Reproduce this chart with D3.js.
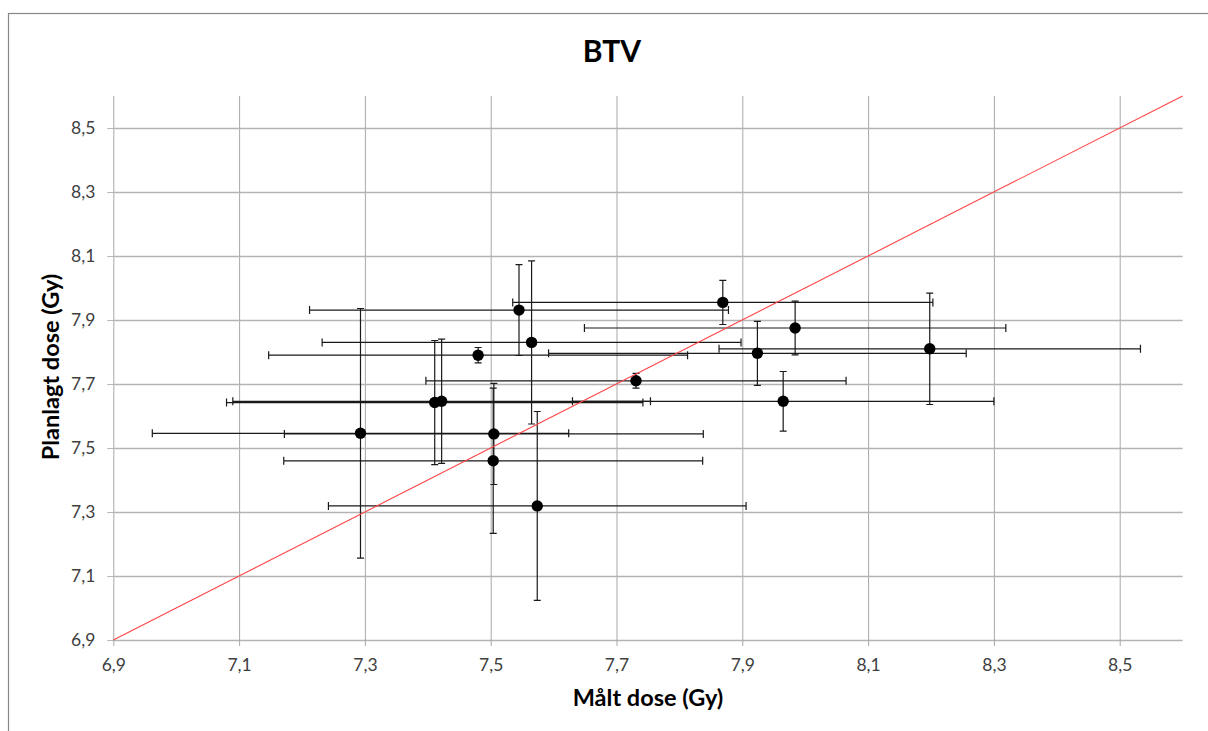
<!DOCTYPE html>
<html>
<head>
<meta charset="utf-8">
<script src="https://cdn.jsdelivr.net/npm/d3@7"></script>
<style>
  body { margin: 0; background: #fff; }
  text { font-family: Lato, "Open Sans", sans-serif; }
  .tickLabel { font-size: 17.5px; fill: #404040; }
  .aText { font-size: 23.5px; font-weight: bold; fill: #000; }
</style>
</head>
<body>
<div id="scatter"></div>
<script>
// ------------ DATA ------------
// measured dose (x) and planned dose (y), read off the chart
var measured = [7.293, 7.411, 7.422, 7.480, 7.505, 7.504, 7.545, 7.565, 7.574, 7.731, 7.869, 7.924, 7.965, 7.984, 8.198];
var planned = [7.546, 7.642, 7.646, 7.790, 7.544, 7.460, 7.931, 7.830, 7.319, 7.710, 7.955, 7.796, 7.646, 7.875, 7.810];
// error bar half widths
var measuredErr = [0.331, 0.331, 0.332, 0.333, 0.333, 0.333, 0.333, 0.333, 0.332, 0.334, 0.334, 0.332, 0.335, 0.335, 0.335];
var plannedErr = [0.390, 0.194, 0.194, 0.024, 0.158, 0.227, 0.142, 0.255, 0.295, 0.023, 0.069, 0.100, 0.093, 0.084, 0.174];
// axis ticks and the identity line
var tickValues = [6.9, 7.1, 7.3, 7.5, 7.7, 7.9, 8.1, 8.3, 8.5];
var axisDomain = [6.9, 8.6];

var data = measured.map(function(m, i) {
  return { x: m, y: planned[i], ex: measuredErr[i], ey: plannedErr[i] };
});

// ------------ CHART FORMATTING ------------
var svgWidth = 1208;
var svgHeight = 731;

var margin = { top: 96, left: 113.3 };
var chartWidth = 1069.3;
var chartHeight = 544;

var svg = d3.select("#scatter")
  .append("svg")
  .attr("width", svgWidth)
  .attr("height", svgHeight);

// chart frame (runs off the right and bottom edge)
svg.append("rect")
  .attr("x", 8.5)
  .attr("y", 13.5)
  .attr("width", 1400)
  .attr("height", 900)
  .attr("fill", "#fff")
  .attr("stroke", "#878787")
  .attr("stroke-width", 1.2);

var chartGroup = svg.append("g")
  .attr("transform", `translate(${margin.left}, ${margin.top})`);

// ------------ AXES ------------
var x = d3.scaleLinear().domain(axisDomain).range([0, chartWidth]);
var y = d3.scaleLinear().domain(axisDomain).range([chartHeight, 0]);

var fmt = function(d) { return d3.format(".1f")(d).replace(".", ","); };

// vertical gridlines
chartGroup.append("g")
  .attr("transform", "translate(0, " + chartHeight + ")")
  .call(d3.axisBottom(x).tickValues(tickValues).tickSize(-chartHeight).tickFormat(""))
  .call(g => g.select(".domain").remove())
  .call(g => g.selectAll("line").attr("stroke", "#a8a8a8").attr("stroke-width", 1));

// horizontal gridlines
chartGroup.append("g")
  .call(d3.axisLeft(y).tickValues(tickValues).tickSize(-chartWidth).tickFormat(""))
  .call(g => g.select(".domain").remove())
  .call(g => g.selectAll("line").attr("stroke", "#b4b4b4").attr("stroke-width", 1.3));

// bottom axis ticks + labels
chartGroup.append("g")
  .attr("transform", "translate(0, " + chartHeight + ")")
  .call(d3.axisBottom(x).tickValues(tickValues).tickSize(6).tickPadding(13).tickFormat(fmt))
  .call(g => g.select(".domain").remove())
  .call(g => g.selectAll("line").attr("stroke", "#a8a8a8"))
  .call(g => g.selectAll("text").attr("class", "tickLabel").attr("font-size", null).attr("font-family", null));

// left axis ticks + labels
chartGroup.append("g")
  .call(d3.axisLeft(y).tickValues(tickValues).tickSize(6).tickPadding(12).tickFormat(fmt))
  .call(g => g.select(".domain").remove())
  .call(g => g.selectAll("line").attr("stroke", "#b4b4b4"))
  .call(g => g.selectAll("text").attr("class", "tickLabel").attr("font-size", null).attr("font-family", null));

// ------------ ERROR BARS ------------
var bars = chartGroup.append("g")
  .attr("stroke", "#1a1a1a")
  .attr("stroke-width", 1.2);

// horizontal (measured) bars
bars.selectAll(".xbar")
  .data(data)
  .enter()
  .append("path")
    .attr("fill", "none")
    .attr("d", function(d) {
      var x0 = x(d.x - d.ex), x1 = x(d.x + d.ex), yy = y(d.y);
      return "M" + x0 + "," + (yy - 4) + "V" + (yy + 4) +
             "M" + x0 + "," + yy + "H" + x1 +
             "M" + x1 + "," + (yy - 4) + "V" + (yy + 4);
    });

// vertical (planned) bars
bars.selectAll(".ybar")
  .data(data)
  .enter()
  .append("path")
    .attr("fill", "none")
    .attr("d", function(d) {
      var y0 = y(d.y - d.ey), y1 = y(d.y + d.ey), xx = x(d.x);
      return "M" + (xx - 3.5) + "," + y0 + "H" + (xx + 3.5) +
             "M" + xx + "," + y0 + "V" + y1 +
             "M" + (xx - 3.5) + "," + y1 + "H" + (xx + 3.5);
    });

// ------------ DATA (DOTS) ------------
chartGroup.append("g")
  .selectAll("circle")
  .data(data)
  .enter()
  .append("circle")
    .attr("cx", d => x(d.x))
    .attr("cy", d => y(d.y))
    .attr("r", 5.7)
    .attr("fill", "#000");

// ------------ IDENTITY LINE ------------
chartGroup.append("line")
  .attr("x1", x(axisDomain[0]))
  .attr("y1", y(axisDomain[0]))
  .attr("x2", x(axisDomain[1]))
  .attr("y2", y(axisDomain[1]))
  .attr("stroke", "#ff4545")
  .attr("stroke-width", 1.1);

// ------------ LABELS ------------
svg.append("text")
  .attr("x", 612)
  .attr("y", 62)
  .attr("text-anchor", "middle")
  .attr("font-size", "30px")
  .attr("font-weight", "bold")
  .text("BTV");

svg.append("text")
  .attr("x", 648)
  .attr("y", 706)
  .attr("text-anchor", "middle")
  .classed("aText", true)
  .text("Målt dose (Gy)");

svg.append("text")
  .attr("transform", "translate(59, 367) rotate(-90)")
  .attr("text-anchor", "middle")
  .classed("aText", true)
  .text("Planlagt dose (Gy)");
</script>
</body>
</html>
